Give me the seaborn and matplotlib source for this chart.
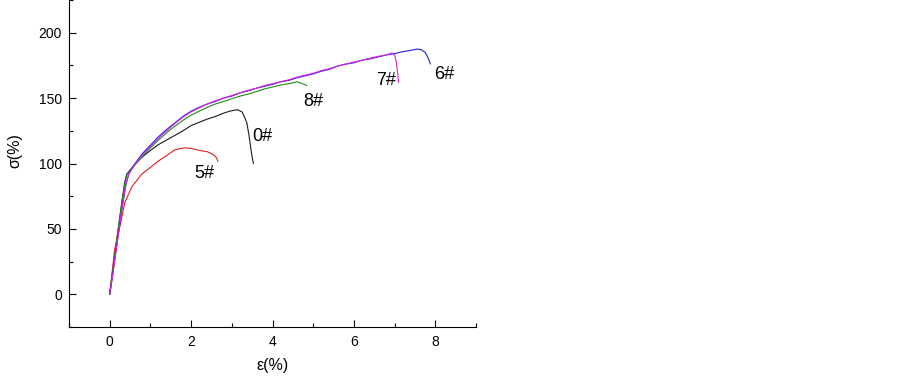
import matplotlib
matplotlib.use("Agg")

import matplotlib.pyplot as plt
import matplotlib.ticker as mticker
import pandas as pd
import seaborn as sns

sns.set_style("ticks", {"text.color": "black", "axes.labelcolor": "black",
                        "xtick.color": "black", "ytick.color": "black",
                        "axes.edgecolor": "black"})
plt.rcParams["font.family"] = ["Liberation Sans", "DejaVu Sans"]

# ── stress-strain curves ──────────────────────────────────────────────────────
x0 = [0, 0.05, 0.1, 0.2, 0.3, 0.37, 0.42, 0.5, 0.65, 0.8, 1.0, 1.2, 1.4, 1.6,
      1.8, 2.0, 2.2, 2.4, 2.6, 2.8, 2.95, 3.05, 3.15, 3.25, 3.32, 3.37, 3.42,
      3.47, 3.5, 3.53]
y0 = [0, 12, 25, 48, 71, 86, 92, 95, 100.5, 105, 110, 114.5, 118, 121.5,
      125, 129, 131.5, 134, 136, 138.5, 140, 140.7, 141, 139.5, 135, 131, 122,
      111, 105, 100]

x5 = [0, 0.05, 0.12, 0.25, 0.37, 0.54, 0.79, 1.0, 1.2, 1.4, 1.6, 1.85, 2.0,
      2.2, 2.4, 2.5, 2.58, 2.63, 2.66]
y5 = [0, 14, 34, 52, 70, 82, 92, 97, 102, 106, 110.5, 112, 111.5, 110, 109,
      107.5, 106, 104, 101.5]

x8 = [0, 0.05, 0.1, 0.2, 0.3, 0.38, 0.43, 0.6, 0.8, 1.0, 1.2, 1.4, 1.6, 1.8,
      2.0, 2.2, 2.4, 2.6, 2.8, 3.0, 3.2, 3.4, 3.6, 3.8, 4.0, 4.2, 4.4, 4.6,
      4.7, 4.78, 4.85]
y8 = [0, 12, 24, 47, 70, 86, 92, 98, 105.5, 112, 118, 123.5, 128.5, 133,
      137, 140, 143, 145.5, 147.5, 149.5, 151.5, 153, 155, 157, 158.5, 160,
      161, 162.5, 161.5, 160.5, 159.5]

x6 = [0, 0.05, 0.1, 0.2, 0.3, 0.4, 0.47, 0.6, 0.8, 1.0, 1.2, 1.4, 1.6, 1.8,
      2.0, 2.2, 2.4, 2.6, 2.8, 3.0, 3.2, 3.4, 3.6, 3.8, 4.0, 4.2, 4.4, 4.6,
      4.8, 5.0, 5.2, 5.4, 5.6, 5.8, 6.0, 6.2, 6.4, 6.6, 6.8, 7.0, 7.2, 7.4,
      7.55, 7.65, 7.75, 7.82, 7.88]
y6 = [0, 10, 21, 43, 65, 84, 92, 99, 107.5, 114, 120.5, 126, 131, 136,
      140, 143, 145.5, 147.5, 150, 151.5, 154, 155.5, 157.5, 159, 160.5,
      162.5, 163.5, 165.5, 167, 168.5, 170.5, 172, 174.5, 176, 177, 179, 180,
      181.5, 183, 184, 185.5, 186.5, 187.5, 187, 185, 181, 176]

x7 = [0, 0.05, 0.1, 0.2, 0.3, 0.4, 0.47, 0.6, 0.8, 1.0, 1.2, 1.4, 1.6, 1.8,
      2.0, 2.2, 2.4, 2.6, 2.8, 3.0, 3.2, 3.4, 3.6, 3.8, 4.0, 4.2, 4.4, 4.6,
      4.8, 5.0, 5.2, 5.4, 5.6, 5.8, 6.0, 6.2, 6.4, 6.6, 6.8, 6.94, 7.0, 7.04,
      7.07, 7.1]
y7 = [0, 10, 21, 43, 66, 85, 92, 98.5, 106.5, 113, 119.5, 125, 130.5, 135.5,
      139.5, 142.5, 145.5, 148, 150, 152, 154, 156, 157.5, 159.5, 161, 162.5,
      164, 166, 167.5, 169, 171, 172.5, 174.5, 176, 177.5, 179, 180.5, 182,
      183, 184.5, 183, 178, 170, 162]

SAMPLES = ["0#", "5#", "8#", "6#", "7#"]
COLORS  = ["#1a1a1a", "#e02020", "#1f8a1f", "#2020e0", "#e020e0"]

# label anchor (left edge, vertical centre) in data units
LBL_X = [3.51, 2.09, 4.76, 7.96, 6.55]
LBL_Y = [120.8, 92.4, 147.6, 168.0, 163.4]

curves = pd.concat([
    pd.DataFrame({"strain": xs, "stress": ys, "sample": s})
    for xs, ys, s in zip([x0, x5, x8, x6, x7], [y0, y5, y8, y6, y7], SAMPLES)
], ignore_index=True)

fig = plt.figure(figsize=(9.03, 3.76), dpi=100)
ax = fig.add_axes([69 / 903, 49 / 376, 407 / 903, 327 / 376])

sns.lineplot(data=curves, x="strain", y="stress", hue="sample",
             palette=dict(zip(SAMPLES, COLORS)), sort=False, estimator=None,
             linewidth=0.8, legend=False, ax=ax)

for s, lx, ly in zip(SAMPLES, LBL_X, LBL_Y):
    ax.text(lx, ly, s, ha="left", va="center", fontsize=13, color="black")

ax.set_xlim(-1, 9)
ax.set_ylim(-25, 225)
ax.xaxis.set_major_locator(mticker.MultipleLocator(2))
ax.xaxis.set_minor_locator(mticker.MultipleLocator(1))
ax.yaxis.set_major_locator(mticker.MultipleLocator(50))
ax.yaxis.set_minor_locator(mticker.MultipleLocator(25))
ax.tick_params(which="both", direction="in", width=0.8, labelsize=10,
               colors="black")
ax.tick_params(which="major", length=5)
ax.tick_params(which="minor", length=3)
ax.tick_params(axis="x", pad=6)
ax.tick_params(axis="y", pad=5)
sns.despine(ax=ax)
for sp in ("left", "bottom"):
    ax.spines[sp].set_linewidth(0.8)

ax.set_xlabel("ε(%)", fontsize=11.5)
ax.set_ylabel("σ(%)", fontsize=11.5)
ax.xaxis.set_label_coords(0.5, -0.095)
ax.yaxis.set_label_coords(-0.115, 0.54)

fig.savefig("out.png", dpi=100)
